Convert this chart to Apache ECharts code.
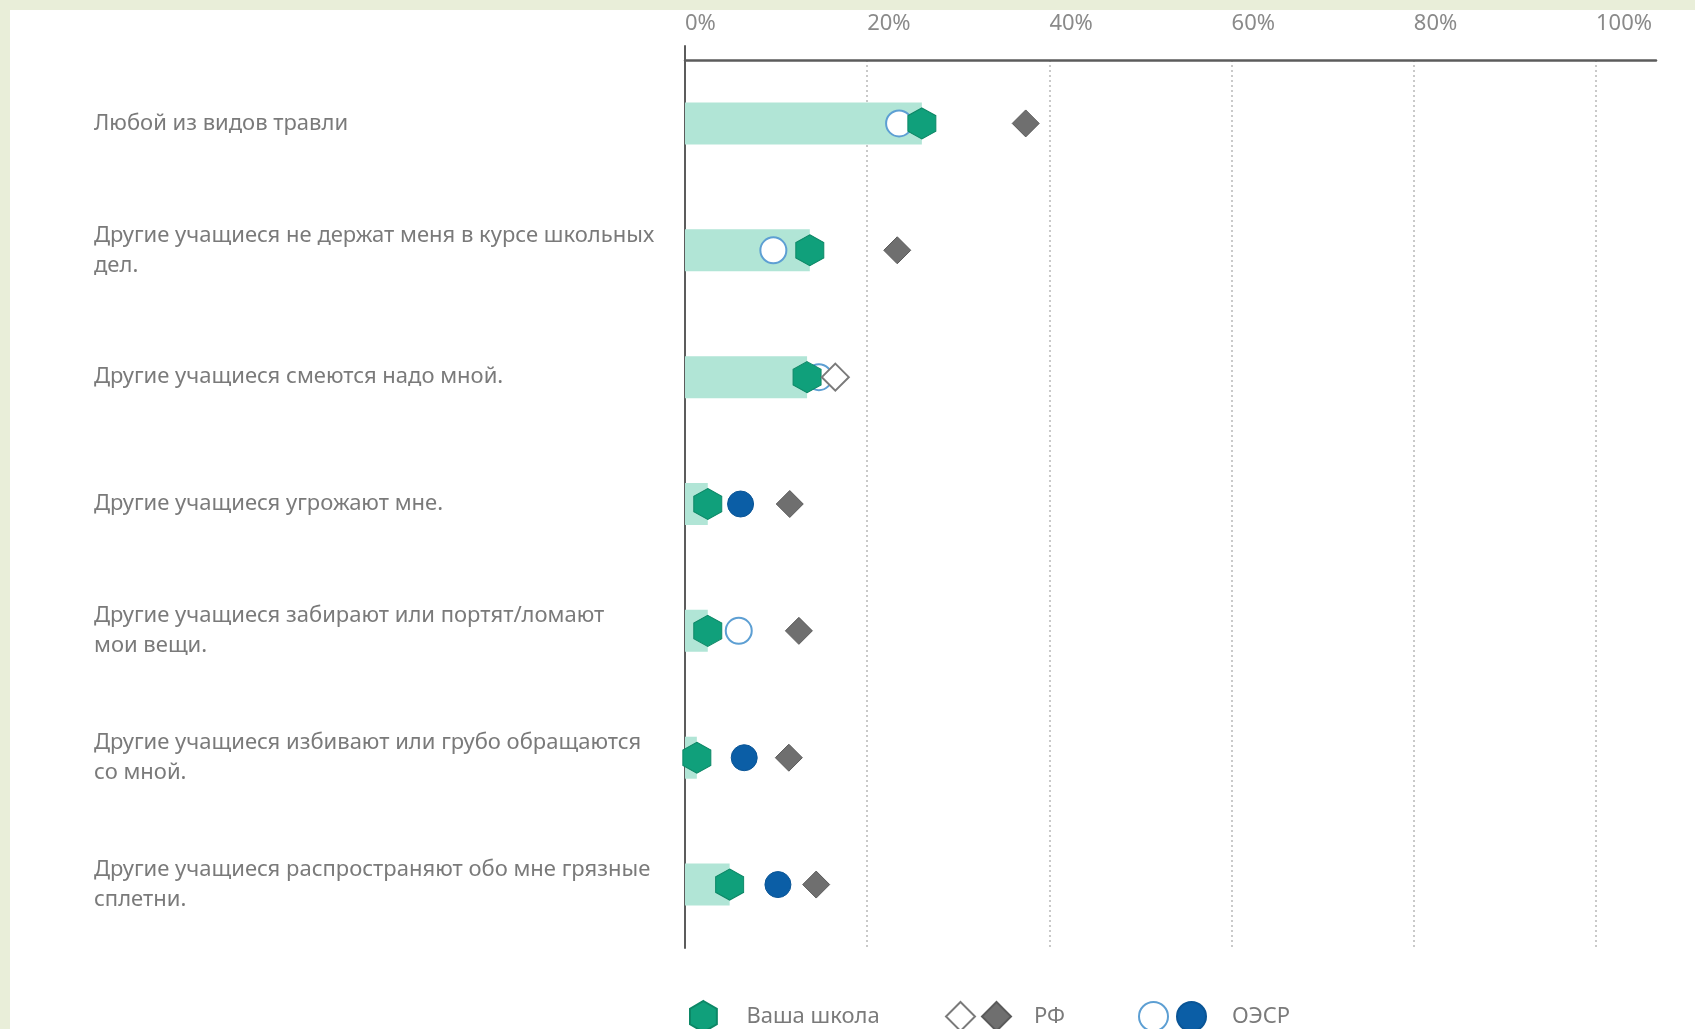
<!DOCTYPE html>
<html>
<head>
<meta charset="utf-8">
<script src="https://cdn.jsdelivr.net/npm/echarts@6/dist/echarts.min.js"></script>
<style>
  html, body { margin: 0; padding: 0; width: 1695px; height: 1029px; background: #e9eed9; overflow: hidden; }
  .panel { position: absolute; left: 10px; top: 10px; right: 0; bottom: 0; background: #fff; }
  #chart { position: absolute; left: 0; top: 0; width: 1695px; height: 1029px; }
</style>
</head>
<body>
<div class="panel"></div>
<div id="chart"></div>
<script>
const categories = [
  'Любой из видов травли',
  'Другие учащиеся не держат меня в курсе школьных\nдел.',
  'Другие учащиеся смеются надо мной.',
  'Другие учащиеся угрожают мне.',
  'Другие учащиеся забирают или портят/ломают\nмои вещи.',
  'Другие учащиеся избивают или грубо обращаются\nсо мной.',
  'Другие учащиеся распространяют обо мне грязные\nсплетни.'
]
const schoolValues = [26.0, 13.7, 13.4, 2.5, 2.5, 1.3, 4.9]
const rfValues = [37.4, 23.3, 16.5, 11.5, 12.5, 11.4, 14.4]
const rfSignificant = [true, true, false, true, true, true, true]
const oecdValues = [23.5, 9.7, 14.7, 6.1, 5.9, 6.5, 10.2]
const oecdSignificant = [false, false, false, true, false, true, true]

const HEX = 'path://M0,-1 L0.866,-0.5 L0.866,0.5 L0,1 L-0.866,0.5 L-0.866,-0.5 Z'
const FONT = 'Noto Sans'
const TEXT_GRAY = '#7a7a7a'
const AXIS_DARK = '#5c5c5c'

// точки, где различие значимо (want=true) или нет (want=false)
function pick(values, flags, want) {
  return values
    .map((v, i) => (flags[i] === want ? [v, categories[i]] : null))
    .filter(Boolean)
}

const hollowName = (n) => n.endsWith(' ')
const legendText = (pad) => ({
  fontFamily: FONT,
  fontSize: 22,
  color: TEXT_GRAY,
  rich: { pad: { width: pad } }
})

const chart = echarts.init(document.getElementById('chart'))

chart.setOption({
  animation: false,
  grid: [
    { left: 685, right: 99, top: 60, bottom: 81 },
    { left: 685, right: 39, top: 60, bottom: 81 },
    { left: 685, width: 10, top: 46, bottom: 81 }
  ],
  xAxis: [
    {
      type: 'value',
      position: 'top',
      min: 0,
      max: 100,
      interval: 20,
      axisLine: { show: false },
      axisTick: { show: false },
      axisLabel: {
        formatter: '{value}%',
        align: 'left',
        margin: 25,
        fontFamily: FONT,
        fontSize: 22,
        color: '#8a8a8a'
      },
      splitLine: { lineStyle: { type: [2, 3], color: '#b8b8b8', width: 1.5 } }
    },
    {
      gridIndex: 1,
      type: 'value',
      position: 'top',
      min: 0,
      max: 1,
      axisLine: { show: true, onZero: false, lineStyle: { color: AXIS_DARK, width: 2.5 } },
      axisTick: { show: false },
      axisLabel: { show: false },
      splitLine: { show: false }
    },
    { gridIndex: 2, type: 'value', show: false }
  ],
  yAxis: [
    {
      type: 'category',
      data: categories,
      inverse: true,
      axisLine: { show: false },
      axisTick: { show: false },
      axisLabel: {
        align: 'left',
        margin: 591,
        padding: [16, 0, 0, 0],
        fontFamily: FONT,
        fontSize: 22,
        lineHeight: 30,
        color: TEXT_GRAY
      }
    },
    { gridIndex: 1, type: 'value', min: 0, max: 1, show: false },
    {
      gridIndex: 2,
      type: 'value',
      axisLine: { show: true, onZero: false, lineStyle: { color: AXIS_DARK, width: 2 } },
      axisTick: { show: false },
      axisLabel: { show: false },
      splitLine: { show: false }
    }
  ],
  legend: [
    {
      left: 684,
      top: 995,
      itemWidth: 28,
      itemHeight: 31,
      selectedMode: false,
      data: [{ name: 'Ваша школа', icon: HEX }],
      formatter: (n) => '{pad|}' + n,
      textStyle: legendText(24)
    },
    {
      left: 940,
      top: 996,
      itemWidth: 29,
      itemHeight: 29,
      itemGap: 5,
      selectedMode: false,
      data: [
        { name: 'РФ ', icon: 'diamond' },
        { name: 'РФ', icon: 'diamond' }
      ],
      formatter: (n) => (hollowName(n) ? '' : '{pad|}' + n),
      textStyle: legendText(18)
    },
    {
      left: 1133,
      top: 996,
      itemWidth: 29,
      itemHeight: 29,
      itemGap: 7,
      selectedMode: false,
      data: [
        { name: 'ОЭСР ', icon: 'circle' },
        { name: 'ОЭСР', icon: 'circle' }
      ],
      formatter: (n) => (hollowName(n) ? '' : '{pad|}' + n),
      textStyle: legendText(21)
    }
  ],
  series: [
    {
      name: 'Ваша школа, доля',
      type: 'bar',
      data: schoolValues,
      barWidth: 42,
      itemStyle: { color: '#b1e5d6' },
      silent: true,
      z: 1
    },
    {
      name: 'ОЭСР ',
      type: 'scatter',
      data: pick(oecdValues, oecdSignificant, false),
      symbol: 'circle',
      symbolSize: 26,
      itemStyle: { color: '#ffffff', borderColor: '#5d9fd3', borderWidth: 2, opacity: 1 },
      z: 3
    },
    {
      name: 'ОЭСР',
      type: 'scatter',
      data: pick(oecdValues, oecdSignificant, true),
      symbol: 'circle',
      symbolSize: 26,
      itemStyle: { color: '#0b5ea6', borderColor: '#0a5596', borderWidth: 1, opacity: 1 },
      z: 3
    },
    {
      name: 'Ваша школа',
      type: 'scatter',
      data: schoolValues.map((v, i) => [v, categories[i]]),
      symbol: HEX,
      symbolSize: [28, 31],
      itemStyle: { color: '#10a07b', borderColor: '#0c8766', borderWidth: 1, opacity: 1 },
      z: 4
    },
    {
      name: 'РФ ',
      type: 'scatter',
      data: pick(rfValues, rfSignificant, false),
      symbol: 'diamond',
      symbolSize: 27,
      itemStyle: { color: '#ffffff', borderColor: '#7a7a7a', borderWidth: 2, opacity: 1 },
      z: 5
    },
    {
      name: 'РФ',
      type: 'scatter',
      data: pick(rfValues, rfSignificant, true),
      symbol: 'diamond',
      symbolSize: 27,
      itemStyle: { color: '#6f6f6f', borderColor: '#5a5a5a', borderWidth: 1, opacity: 1 },
      z: 5
    }
  ]
})

window.addEventListener('resize', () => chart.resize())
</script>
</body>
</html>
